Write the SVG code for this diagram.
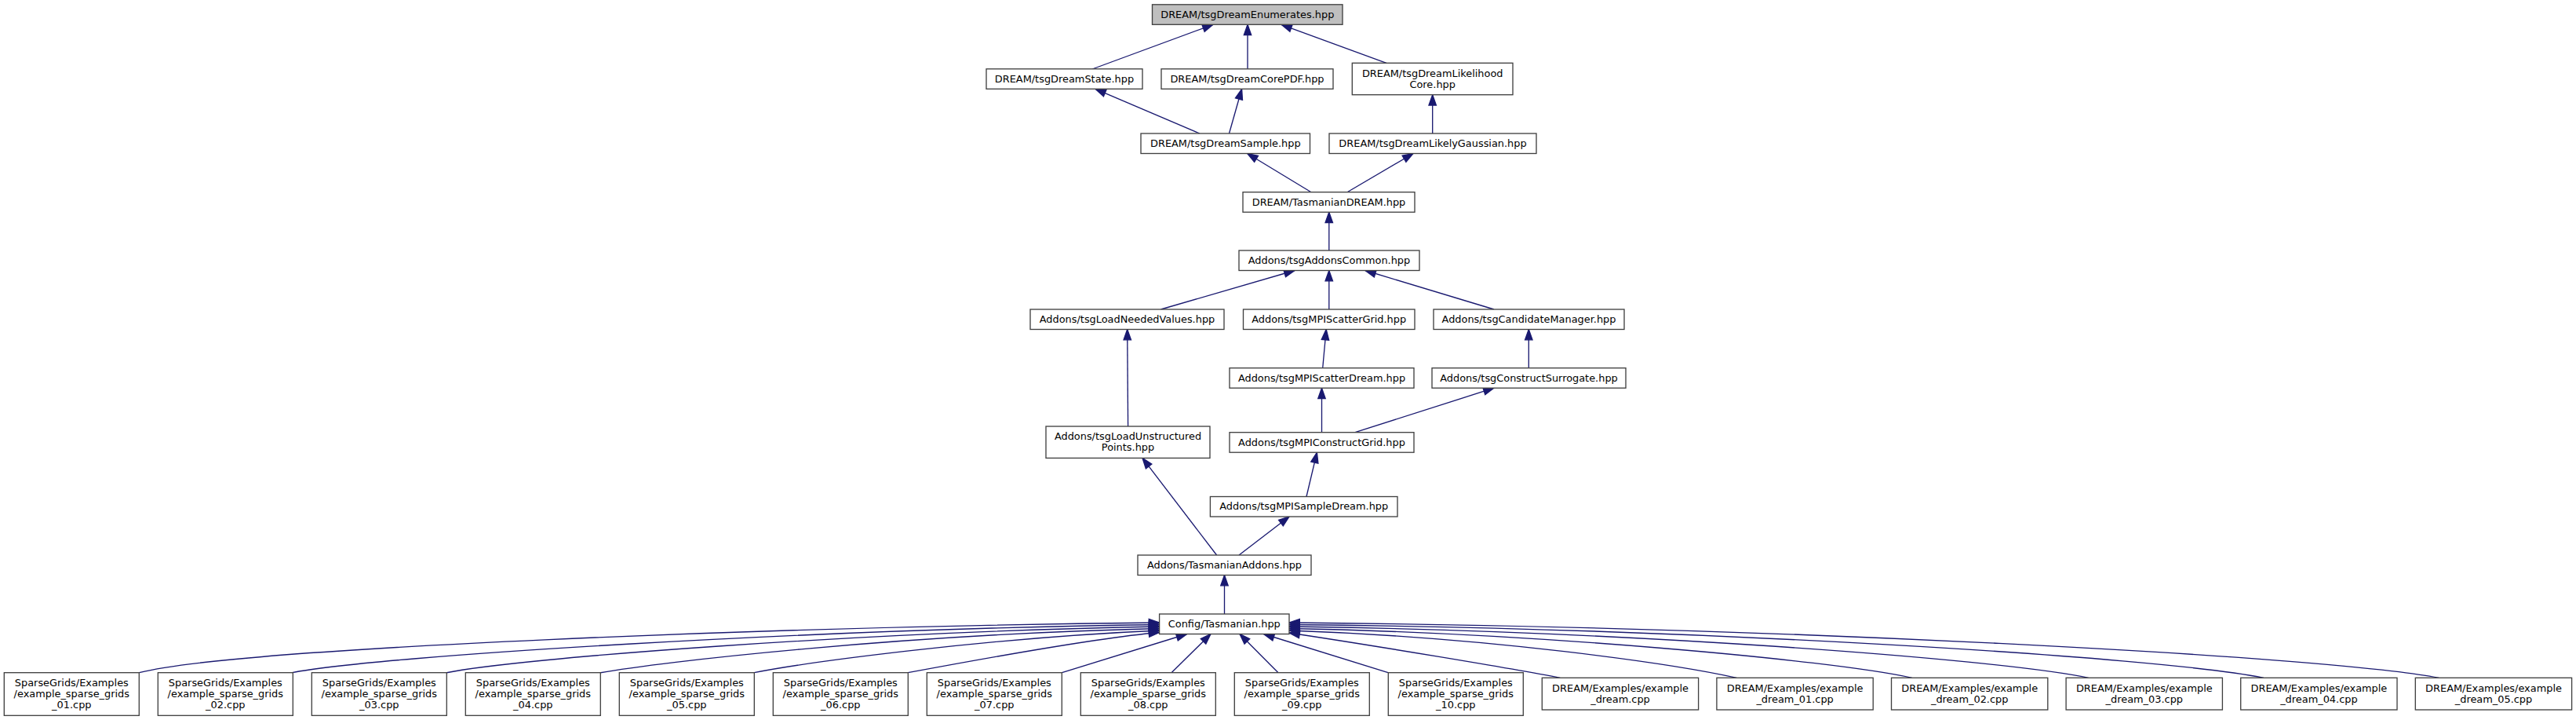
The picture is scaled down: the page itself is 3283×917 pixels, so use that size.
<svg xmlns="http://www.w3.org/2000/svg" width="3283" height="917" viewBox="0 0 3283 917">
<style>
.n rect{fill:#ffffff;stroke:#404040;stroke-width:1.33}
.root rect{fill:#bfbfbf}
.n text{font-family:"DejaVu Sans","Liberation Sans",sans-serif;font-size:12.9px;fill:#000;text-anchor:middle}
.e path{fill:none;stroke:#191970;stroke-width:1.33;marker-end:url(#arr)}
</style>
<defs>
<marker id="arr" markerUnits="userSpaceOnUse" markerWidth="18" markerHeight="14" viewBox="-2 -7 18 14" refX="13.3" refY="0" orient="auto">
<path d="M0,-4.7 L13.3,0 L0,4.7 Z" fill="#191970" stroke="#191970" stroke-width="1.33"/>
</marker>
</defs>
<rect width="3283" height="917" fill="#ffffff"/>
<g id="connectors" class="e">
<path d="M1392,88 L1546,31.3"/>
<path d="M1590,88 L1590,31.3"/>
<path d="M1767,80.3 L1633,31.3"/>
<path d="M1529,170 L1396,113.3"/>
<path d="M1566.5,170 L1582.6,113.3"/>
<path d="M1825.7,170 L1825.7,120.7"/>
<path d="M1671,244.7 L1589.7,195.5"/>
<path d="M1717,244.7 L1801,195.5"/>
<path d="M1693.8,319 L1693.8,270.2"/>
<path d="M1479.5,394 L1650,344.5"/>
<path d="M1693.8,394 L1693.8,344.5"/>
<path d="M1904,394 L1740,344.5"/>
<path d="M1437.6,543 L1436.7,419.5"/>
<path d="M1685.7,468.7 L1690.2,419.5"/>
<path d="M1948.3,468.7 L1948.3,419.5"/>
<path d="M1684.5,550.7 L1684.5,494.2"/>
<path d="M1727,550.7 L1904,494.2"/>
<path d="M1665,632.5 L1678.4,576.2"/>
<path d="M1550.6,707 L1456,583.4"/>
<path d="M1579,707 L1643,658"/>
<path d="M1560.5,782 L1560.5,732.5"/>
<path d="M177.6,856.7 C300,825 1000,798 1477.6,793"/>
<path d="M372.4,856.7 C480,835 1050,801 1477.6,795.5"/>
<path d="M568,857 C660,838 1100,805 1477.6,798"/>
<path d="M764,857 C840,843 1150,808 1477.6,800.5"/>
<path d="M961.3,856.7 C1020,845 1250,813 1477.6,803"/>
<path d="M1157.3,856.7 C1220,845 1400,812 1477.6,805.5"/>
<path d="M1353.5,856.7 L1512.6,807.5"/>
<path d="M1493,856.7 L1543,807.5"/>
<path d="M1629,856.7 L1580,807.5"/>
<path d="M1769,856.7 L1610.6,807.5"/>
<path d="M1988.3,863.3 C1930,852 1750,822 1643,806"/>
<path d="M2213.3,863.3 C2130,845 1900,812 1643,803"/>
<path d="M2436.7,863.3 C2330,840 1950,806 1643,800.5"/>
<path d="M2661.7,863.3 C2540,838 2050,803 1643,798"/>
<path d="M2885,863.3 C2750,836 2150,800 1643,795.5"/>
<path d="M3108.3,863.3 C2960,835 2250,798 1643,793"/>
</g>
<g id="node_enumerates" class="n root"><rect x="1468.5" y="5.8" width="242.5" height="25.5"/><text x="1589.8" y="22.6">DREAM/tsgDreamEnumerates.hpp</text></g>
<g id="node_dreamstate" class="n"><rect x="1257" y="87.8" width="199" height="25.5"/><text x="1356.5" y="104.6">DREAM/tsgDreamState.hpp</text></g>
<g id="node_corepdf" class="n"><rect x="1480" y="87.8" width="219" height="25.5"/><text x="1589.5" y="104.6">DREAM/tsgDreamCorePDF.hpp</text></g>
<g id="node_likelihoodcore" class="n"><rect x="1723.3" y="80.3" width="204.7" height="40.4"/><text x="1825.7" y="97.5">DREAM/tsgDreamLikelihood</text><text x="1825.7" y="111.5">Core.hpp</text></g>
<g id="node_dreamsample" class="n"><rect x="1454" y="170" width="215.5" height="25.5"/><text x="1561.8" y="186.8">DREAM/tsgDreamSample.hpp</text></g>
<g id="node_likelygaussian" class="n"><rect x="1694" y="170" width="264" height="25.5"/><text x="1826" y="186.8">DREAM/tsgDreamLikelyGaussian.hpp</text></g>
<g id="node_tasmaniandream" class="n"><rect x="1584" y="244.7" width="219" height="25.5"/><text x="1693.5" y="261.5">DREAM/TasmanianDREAM.hpp</text></g>
<g id="node_addonscommon" class="n"><rect x="1579" y="319" width="230" height="25.5"/><text x="1694" y="335.8">Addons/tsgAddonsCommon.hpp</text></g>
<g id="node_loadneeded" class="n"><rect x="1313" y="394" width="247" height="25.5"/><text x="1436.5" y="410.8">Addons/tsgLoadNeededValues.hpp</text></g>
<g id="node_mpiscattergrid" class="n"><rect x="1584.5" y="394" width="218.5" height="25.5"/><text x="1693.7" y="410.8">Addons/tsgMPIScatterGrid.hpp</text></g>
<g id="node_candidate" class="n"><rect x="1827" y="394" width="243" height="25.5"/><text x="1948.5" y="410.8">Addons/tsgCandidateManager.hpp</text></g>
<g id="node_mpiscatterdream" class="n"><rect x="1567" y="468.7" width="235" height="25.5"/><text x="1684.5" y="485.5">Addons/tsgMPIScatterDream.hpp</text></g>
<g id="node_constructsurrogate" class="n"><rect x="1825" y="468.7" width="247" height="25.5"/><text x="1948.5" y="485.5">Addons/tsgConstructSurrogate.hpp</text></g>
<g id="node_loadunstructured" class="n"><rect x="1333" y="543" width="209" height="40.4"/><text x="1437.5" y="560.2">Addons/tsgLoadUnstructured</text><text x="1437.5" y="574.2">Points.hpp</text></g>
<g id="node_mpiconstructgrid" class="n"><rect x="1567" y="550.7" width="235" height="25.5"/><text x="1684.5" y="567.5">Addons/tsgMPIConstructGrid.hpp</text></g>
<g id="node_mpisampledream" class="n"><rect x="1542.4" y="632.5" width="238.6" height="25.5"/><text x="1661.7" y="649.3">Addons/tsgMPISampleDream.hpp</text></g>
<g id="node_tasmanianaddons" class="n"><rect x="1450" y="707" width="221" height="25.5"/><text x="1560.5" y="723.8">Addons/TasmanianAddons.hpp</text></g>
<g id="node_config" class="n"><rect x="1477.6" y="782" width="165.4" height="25.5"/><text x="1560.3" y="798.8">Config/Tasmanian.hpp</text></g>
<g id="node_sg01" class="n"><rect x="5.3" y="856.7" width="172" height="54.6"/><text x="91.3" y="874">SparseGrids/Examples</text><text x="91.3" y="888">/example_sparse_grids</text><text x="91.3" y="902">_01.cpp</text></g>
<g id="node_sg02" class="n"><rect x="201.3" y="856.7" width="172" height="54.6"/><text x="287.3" y="874">SparseGrids/Examples</text><text x="287.3" y="888">/example_sparse_grids</text><text x="287.3" y="902">_02.cpp</text></g>
<g id="node_sg03" class="n"><rect x="397.3" y="856.7" width="172" height="54.6"/><text x="483.3" y="874">SparseGrids/Examples</text><text x="483.3" y="888">/example_sparse_grids</text><text x="483.3" y="902">_03.cpp</text></g>
<g id="node_sg04" class="n"><rect x="593.3" y="856.7" width="172" height="54.6"/><text x="679.3" y="874">SparseGrids/Examples</text><text x="679.3" y="888">/example_sparse_grids</text><text x="679.3" y="902">_04.cpp</text></g>
<g id="node_sg05" class="n"><rect x="789.3" y="856.7" width="172" height="54.6"/><text x="875.3" y="874">SparseGrids/Examples</text><text x="875.3" y="888">/example_sparse_grids</text><text x="875.3" y="902">_05.cpp</text></g>
<g id="node_sg06" class="n"><rect x="985.3" y="856.7" width="172" height="54.6"/><text x="1071.3" y="874">SparseGrids/Examples</text><text x="1071.3" y="888">/example_sparse_grids</text><text x="1071.3" y="902">_06.cpp</text></g>
<g id="node_sg07" class="n"><rect x="1181.3" y="856.7" width="172" height="54.6"/><text x="1267.3" y="874">SparseGrids/Examples</text><text x="1267.3" y="888">/example_sparse_grids</text><text x="1267.3" y="902">_07.cpp</text></g>
<g id="node_sg08" class="n"><rect x="1377.3" y="856.7" width="172" height="54.6"/><text x="1463.3" y="874">SparseGrids/Examples</text><text x="1463.3" y="888">/example_sparse_grids</text><text x="1463.3" y="902">_08.cpp</text></g>
<g id="node_sg09" class="n"><rect x="1573.3" y="856.7" width="172" height="54.6"/><text x="1659.3" y="874">SparseGrids/Examples</text><text x="1659.3" y="888">/example_sparse_grids</text><text x="1659.3" y="902">_09.cpp</text></g>
<g id="node_sg10" class="n"><rect x="1769.3" y="856.7" width="172" height="54.6"/><text x="1855.3" y="874">SparseGrids/Examples</text><text x="1855.3" y="888">/example_sparse_grids</text><text x="1855.3" y="902">_10.cpp</text></g>
<g id="node_dream" class="n"><rect x="1965.3" y="863.3" width="199.3" height="40.7"/><text x="2065" y="880.7">DREAM/Examples/example</text><text x="2065" y="894.7">_dream.cpp</text></g>
<g id="node_dream01" class="n"><rect x="2187.9" y="863.3" width="199.3" height="40.7"/><text x="2287.6" y="880.7">DREAM/Examples/example</text><text x="2287.6" y="894.7">_dream_01.cpp</text></g>
<g id="node_dream02" class="n"><rect x="2410.5" y="863.3" width="199.3" height="40.7"/><text x="2510.2" y="880.7">DREAM/Examples/example</text><text x="2510.2" y="894.7">_dream_02.cpp</text></g>
<g id="node_dream03" class="n"><rect x="2633.1" y="863.3" width="199.3" height="40.7"/><text x="2732.8" y="880.7">DREAM/Examples/example</text><text x="2732.8" y="894.7">_dream_03.cpp</text></g>
<g id="node_dream04" class="n"><rect x="2855.7" y="863.3" width="199.3" height="40.7"/><text x="2955.4" y="880.7">DREAM/Examples/example</text><text x="2955.4" y="894.7">_dream_04.cpp</text></g>
<g id="node_dream05" class="n"><rect x="3078.3" y="863.3" width="199.3" height="40.7"/><text x="3178" y="880.7">DREAM/Examples/example</text><text x="3178" y="894.7">_dream_05.cpp</text></g>
</svg>
